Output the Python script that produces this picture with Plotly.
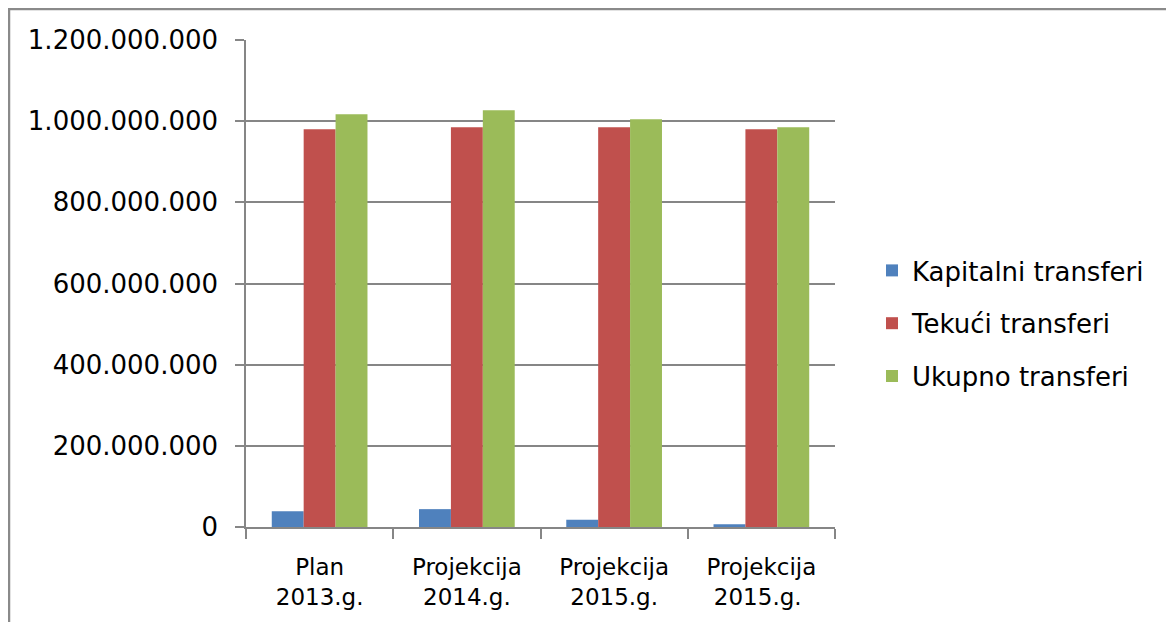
import plotly.graph_objects as go

categories = ["Plan<br>2013.g.", "Projekcija<br>2014.g.", "Projekcija<br>2015.g.", "Projekcija<br>2015.g. "]
kapitalni = [39000000, 44000000, 18000000, 7000000]
tekuci = [980000000, 985000000, 985000000, 980000000]
ukupno = [1017000000, 1027000000, 1005000000, 985000000]
series_names = ["Kapitalni transferi", "Tekući transferi", "Ukupno transferi"]
colors = ["#4F81BD", "#C0504D", "#9BBB59"]

FONT = "DejaVu Sans"
GRID = "#868686"

fig = go.Figure()
for i, (name, vals) in enumerate(zip(series_names, [kapitalni, tekuci, ukupno])):
    fig.add_trace(go.Bar(
        x=categories, y=vals, name=name, marker_color=colors[i],
        marker_line_width=0, legendgroup=f"g{i}",
    ))

# page body has an 8px margin; figure coordinates are window coordinates minus 8
W, H = 1158, 614
L, T = 238, 32
PR, PB = 827, 519
R, B = W - PR, H - PB
pw = PR - L
ph = PB - T

fig.update_layout(
    width=W, height=H,
    margin=dict(l=L, r=R, t=T, b=B),
    paper_bgcolor="white", plot_bgcolor="white",
    barmode="group", bargap=0.35, bargroupgap=0,
    separators=",.",
    font=dict(family=FONT, size=23, color="#000000"),
    showlegend=True,
    legend=dict(
        x=(864 - L) / pw, y=(PB - 239) / ph, xanchor="left", yanchor="top",
        font=dict(family=FONT, size=26, color="#000000"),
        traceorder="grouped", tracegroupgap=16,
        bgcolor="rgba(0,0,0,0)",
    ),
    xaxis=dict(
        type="category", showline=True, linecolor=GRID, linewidth=1.5,
        ticks="outside", tickson="boundaries", ticklen=10, tickcolor=GRID, tickwidth=1.5,
        showgrid=False, tickfont=dict(family=FONT, size=23),
        ticklabelstandoff=19,
    ),
    yaxis=dict(
        range=[0, 1.2e9], dtick=2e8, tickformat=",d",
        showline=True, linecolor=GRID, linewidth=1.5,
        ticks="outside", ticklen=9, tickcolor=GRID, tickwidth=1.5,
        showgrid=True, gridcolor=GRID, gridwidth=1.5, zeroline=False,
        tickfont=dict(family=FONT, size=26),
        ticklabelstandoff=12,
    ),
    shapes=[
        dict(type="line", xref="paper", yref="paper",
             x0=(0 - L) / pw, x1=(W - L) / pw, y0=(PB - 1) / ph, y1=(PB - 1) / ph,
             line=dict(color="#8a8a8a", width=2.5)),
        dict(type="line", xref="paper", yref="paper",
             x0=(1 - L) / pw, x1=(1 - L) / pw, y0=(PB - 0) / ph, y1=(PB - H) / ph,
             line=dict(color="#8a8a8a", width=2.5)),
    ],
)

fig.write_html("out.html")
